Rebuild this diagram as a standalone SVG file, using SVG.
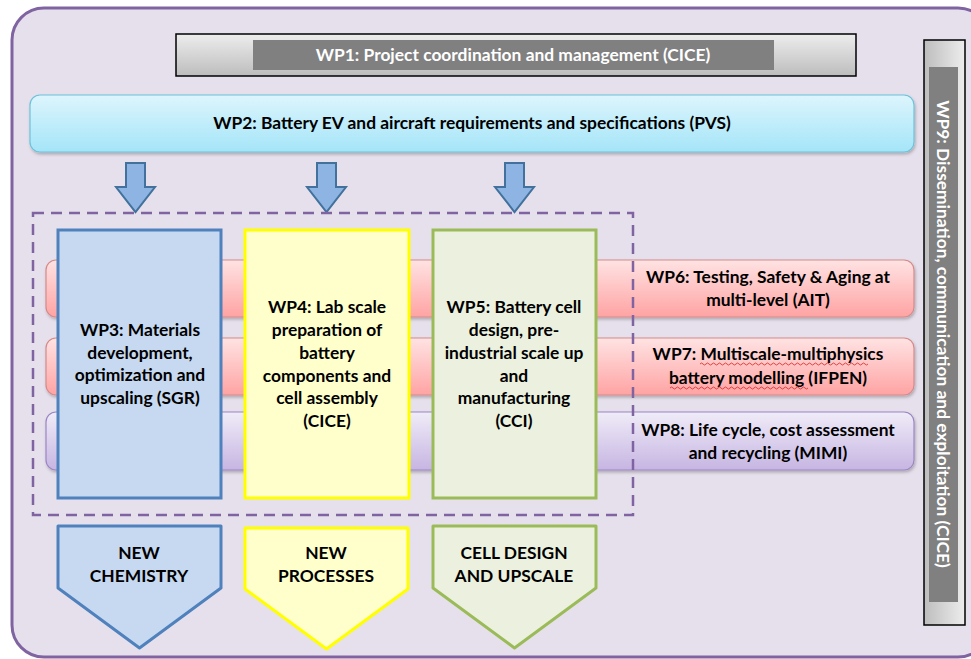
<svg xmlns="http://www.w3.org/2000/svg" width="971" height="659" viewBox="0 0 971 659">
<defs>
<linearGradient id="gGray" x1="0" y1="0" x2="0" y2="1"><stop offset="0" stop-color="#EDEDED"/><stop offset="1" stop-color="#BDBDBD"/></linearGradient>
<linearGradient id="gGrayH" x1="0" y1="0" x2="1" y2="0"><stop offset="0" stop-color="#BDBDBD"/><stop offset="1" stop-color="#EDEDED"/></linearGradient>
<linearGradient id="gCyan" x1="0" y1="0" x2="0" y2="1"><stop offset="0" stop-color="#DDF5FD"/><stop offset="1" stop-color="#A4E5F8"/></linearGradient>
<linearGradient id="gPink" x1="0" y1="0" x2="0" y2="1"><stop offset="0" stop-color="#FFE3E3"/><stop offset="1" stop-color="#FFA3A3"/></linearGradient>
<linearGradient id="gLav" x1="0" y1="0" x2="0" y2="1"><stop offset="0" stop-color="#F0ECF8"/><stop offset="1" stop-color="#C6B5E2"/></linearGradient>
<filter id="sh" x="-5%" y="-20%" width="110%" height="150%"><feDropShadow dx="1" dy="2" stdDeviation="1.5" flood-color="#000" flood-opacity="0.25"/></filter>
</defs>
<style>
text{font-family:Lato,"Liberation Sans",sans-serif;font-weight:bold;font-size:17.4px;fill:#000;text-anchor:middle}
.w{fill:#fff}
.bar{stroke-width:1.2}
.arr{fill:#8EB4E3;stroke:#41719C;stroke-width:2}
.dash{fill:none;stroke:#8064A2;stroke-width:2.5;stroke-dasharray:11 7}
.squig{fill:none;stroke:#E03030;stroke-width:0.9}
</style>
<rect x="12" y="8" width="978" height="649" rx="32" fill="#E6E0EC" stroke="#8064A2" stroke-width="3"/>

<g id="wp1">
<rect x="176" y="34" width="680" height="42" fill="url(#gGray)" stroke="#000" stroke-width="1.5"/>
<rect x="253" y="40" width="521" height="30" fill="#808080"/>
<text class="w" x="513" y="61">WP1: Project coordination and management (CICE)</text>
</g>

<g id="wp9">
<rect x="924" y="40" width="41" height="585" fill="url(#gGrayH)" stroke="#000" stroke-width="1.5"/>
<rect x="929" y="67" width="29" height="535" fill="#808080"/>
<text class="w" transform="translate(937 334) rotate(90)">WP9: Dissemination, communication and exploitation (CICE)</text>
</g>

<g id="wp2">
<rect x="30" y="95" width="884" height="57" rx="10" fill="url(#gCyan)" stroke="#6DC2DA" stroke-width="1.2" filter="url(#sh)"/>
<text x="472" y="129">WP2: Battery EV and aircraft requirements and specifications (PVS)</text>
</g>

<g id="connectors">
<path class="arr" d="M126 163H145V187H155L135.5 212L116 187H126Z"/>
<path class="arr" d="M317 163H336V187H346L326.5 212L307 187H317Z"/>
<path class="arr" d="M505 163H524V187H534L514.5 212L495 187H505Z"/>
</g>

<g id="wp6">
<rect class="bar" x="46" y="260" width="868" height="57" rx="10" fill="url(#gPink)" stroke="#D58A8A" filter="url(#sh)"/>
<text x="768" y="283">WP6: Testing, Safety &amp; Aging at</text>
<text x="768" y="306">multi-level (AIT)</text>
</g>
<g id="wp7">
<rect class="bar" x="46" y="338" width="868" height="57" rx="10" fill="url(#gPink)" stroke="#D58A8A" filter="url(#sh)"/>
<text x="768" y="360">WP7: Multiscale-multiphysics</text>
<text x="768" y="384">battery modelling (IFPEN)</text>
<path class="squig" d="M700 364q1.5 -2 3 0t3 0t3 0t3 0t3 0t3 0t3 0t3 0t3 0t3 0t3 0t3 0t3 0t3 0t3 0t3 0t3 0t3 0t3 0t3 0t3 0t3 0t3 0t3 0t3 0t3 0t3 0t3 0t3 0t3 0t3 0t3 0t3 0t3 0t3 0t3 0t3 0t3 0t3 0t3 0t3 0t3 0t3 0t3 0t3 0t3 0t3 0t3 0t3 0t3 0t3 0t3 0t3 0t3 0t3 0t3 0"/>
<path class="squig" d="M670 388q1.5 -2 3 0t3 0t3 0t3 0t3 0t3 0t3 0t3 0t3 0t3 0t3 0t3 0t3 0t3 0t3 0t3 0t3 0t3 0t3 0t3 0t3 0t3 0t3 0t3 0t3 0t3 0t3 0t3 0t3 0t3 0t3 0t3 0t3 0t3 0t3 0t3 0t3 0t3 0t3 0t3 0t3 0t3 0t3 0t3 0t3 0t3 0"/>
</g>
<g id="wp8">
<rect class="bar" x="46" y="412" width="868" height="58" rx="10" fill="url(#gLav)" stroke="#9B86C4" filter="url(#sh)"/>
<text x="768" y="436">WP8: Life cycle, cost assessment</text>
<text x="768" y="459">and recycling (MIMI)</text>
</g>

<rect id="core-group" class="dash" x="33" y="213" width="600" height="302"/>

<g id="wp3">
<rect x="58" y="230" width="163" height="268" fill="#C6D9F0" stroke="#4F81BD" stroke-width="3"/>
<text x="140" y="336">WP3: Materials</text>
<text x="140" y="359">development,</text>
<text x="140" y="381">optimization and</text>
<text x="140" y="404">upscaling (SGR)</text>
</g>
<g id="wp4">
<rect x="245" y="230" width="164" height="268" fill="#FFFFCC" stroke="#FFFF00" stroke-width="3"/>
<text x="327" y="313">WP4: Lab scale</text>
<text x="327" y="336">preparation of</text>
<text x="327" y="359">battery</text>
<text x="327" y="382">components and</text>
<text x="327" y="404">cell assembly</text>
<text x="327" y="427">(CICE)</text>
</g>
<g id="wp5">
<rect x="433" y="230" width="163" height="268" fill="#EBF1DE" stroke="#9BBB59" stroke-width="3"/>
<text x="514" y="313">WP5: Battery cell</text>
<text x="514" y="336">design, pre-</text>
<text x="514" y="359">industrial scale up</text>
<text x="514" y="382">and</text>
<text x="514" y="404">manufacturing</text>
<text x="514" y="427">(CCI)</text>
</g>

<g id="out-chem">
<path d="M58 526H221V588L139.5 648L58 588Z" fill="#C6D9F0" stroke="#4F81BD" stroke-width="3" stroke-linejoin="round"/>
<text x="139" y="559">NEW</text>
<text x="139" y="582">CHEMISTRY</text>
</g>
<g id="out-proc">
<path d="M245 528H408V589L326.5 649L245 589Z" fill="#FFFFCC" stroke="#FFFF00" stroke-width="3" stroke-linejoin="round"/>
<text x="326" y="559">NEW</text>
<text x="326" y="582">PROCESSES</text>
</g>
<g id="out-cell">
<path d="M433 526H596V588L514.5 648L433 588Z" fill="#EBF1DE" stroke="#9BBB59" stroke-width="3" stroke-linejoin="round"/>
<text x="514" y="559">CELL DESIGN</text>
<text x="514" y="582">AND UPSCALE</text>
</g>
</svg>
